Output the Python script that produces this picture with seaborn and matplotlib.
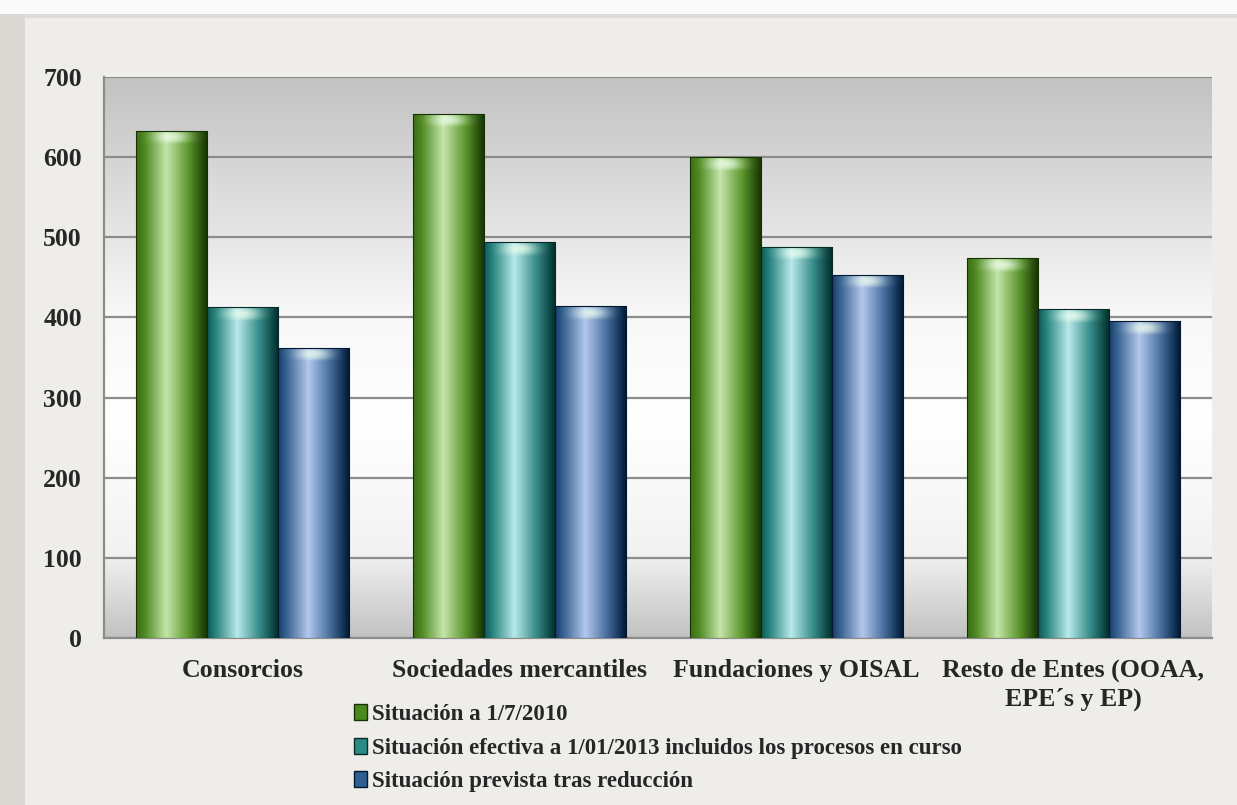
import numpy as np
import pandas as pd
import matplotlib
matplotlib.use("Agg")
import matplotlib.pyplot as plt
import seaborn as sns
from matplotlib.colors import LinearSegmentedColormap
from matplotlib.patches import Patch, Rectangle

categories = ["Consorcios", "Sociedades mercantiles", "Fundaciones y OISAL",
              "Resto de Entes (OOAA,\nEPE´s y EP)"]
series = ["Situación a 1/7/2010",
          "Situación efectiva a 1/01/2013 incluidos los procesos en curso",
          "Situación prevista tras reducción"]
s2010 = [633, 654, 600, 474]
s2013 = [413, 494, 488, 410]
prevista = [362, 414, 453, 395]
yticks = [0, 100, 200, 300, 400, 500, 600, 700]

base_colors = ["#4a8a1c", "#2a8a86", "#2e5f92"]
profiles = [
    ["#3b6e14", "#4f8a22", "#c5e6aa", "#5f9a30", "#254b0a", "#163205"],
    ["#0e5a55", "#2a8580", "#b8eaea", "#3a8f8c", "#0a4542", "#052a28"],
    ["#163e6a", "#3a6594", "#b4c8ec", "#4a70a0", "#0d2c50", "#03172e"],
]
stops = [0.0, 0.12, 0.42, 0.72, 0.93, 1.0]

df = pd.DataFrame({
    "cat": np.repeat(categories, 3),
    "serie": series * 4,
    "val": [v for trio in zip(s2010, s2013, prevista) for v in trio],
})

sns.set_style("white")
plt.rcParams["font.family"] = ["Liberation Serif", "DejaVu Serif"]
plt.rcParams["font.weight"] = "bold"

fig = plt.figure(figsize=(12.37, 8.05), dpi=100)
fig.patch.set_facecolor("#efede9")
# paper edges
fig.add_artist(Rectangle((0, 0), 25/1237, 1 - 14/805, transform=fig.transFigure,
                         facecolor="#dcd9d4", edgecolor="none", zorder=-5))
fig.add_artist(Rectangle((0, 1 - 14/805), 1, 14/805, transform=fig.transFigure,
                         facecolor="#fafafa", edgecolor="none", zorder=-5))
fig.add_artist(Rectangle((25/1237, 1 - 18/805), 1, 4/805, transform=fig.transFigure,
                         facecolor="#dddbd7", edgecolor="none", zorder=-4))

ax = fig.add_axes([104/1237, 1 - 638/805, (1212 - 104)/1237, (638 - 77)/805])

sns.barplot(data=df, x="cat", y="val", hue="serie", hue_order=series,
            palette=base_colors, width=0.77, dodge=True, ax=ax,
            edgecolor="none", linewidth=0, legend=False, zorder=3)

ax.set_ylim(0, 700)
ax.set_xlim(-0.5, 3.5)

# background gradient of plot area
g = np.array([0.0, 0.42, 0.62, 0.85, 1.0])
vals = np.array([0.76, 0.97, 1.0, 0.95, 0.76])
yy = np.linspace(0, 1, 300)
col = np.interp(yy, g, vals)
bg = np.repeat(col[:, None], 2, axis=1)
ax.imshow(np.dstack([bg, bg, bg]), extent=(-0.5, 3.5, 0, 700), aspect="auto",
          zorder=0, interpolation="bilinear")

# bar gradients
bars = [p for p in ax.patches if isinstance(p, Rectangle)]
for i, p in enumerate(bars):
    si = i // 4
    x0, w, h = p.get_x(), p.get_width(), p.get_height()
    cmap = LinearSegmentedColormap.from_list("c", list(zip(stops, profiles[si])))
    nx = 120
    ny = int(h)
    xs = np.linspace(0, 1, nx)
    row = cmap(xs)[:, :3]
    img = np.repeat(row[None, :, :], ny, axis=0).copy()
    band = 18
    for r in range(min(band, ny)):
        glow = np.exp(-((xs - 0.5) / 0.22) ** 2) * 0.75 * np.sin(np.pi * (r + 1) / band)
        img[r] = img[r] * (1 - glow[:, None]) + glow[:, None] * np.array([0.93, 1.0, 0.93])
    p.set_facecolor("none")
    im = ax.imshow(img, extent=(x0, x0 + w, 0, h), aspect="auto", zorder=3,
                   interpolation="bilinear")
    im.set_clip_path(p)
    ax.add_patch(Rectangle((x0, 0), w, h, facecolor="none",
                           edgecolor=profiles[si][-1], linewidth=0.8, zorder=4))

ax.set_xlim(-0.5, 3.5)
ax.set_ylim(0, 700)

ax.set_yticks(yticks)
ax.set_yticklabels([str(v) for v in yticks])
ax.grid(axis="y", color="#8c8c8c", linewidth=1.6, zorder=1)
ax.set_axisbelow(True)
ax.set_xticks(range(4))
ax.set_xticklabels(categories, linespacing=1.32)
ax.set_xticks([-0.5, 0.5, 1.5, 2.5, 3.5], minor=True)
ax.tick_params(axis="x", which="major", length=0, pad=15, labelsize=18.6)
ax.tick_params(axis="x", which="minor", length=7, color="#8c8c8c", width=1.2)
ax.tick_params(axis="y", length=8, color="#8c8c8c", width=1.2, pad=8, labelsize=18.5)
ax.set_xlabel("")
ax.set_ylabel("")
for s in ["top", "right"]:
    ax.spines[s].set_visible(False)
for s in ["left", "bottom"]:
    ax.spines[s].set_color("#8c8c8c")
    ax.spines[s].set_linewidth(1.6)

handles = [Patch(facecolor=base_colors[i], edgecolor=profiles[i][-1]) for i in range(3)]
fig.legend(handles, series, loc="upper left", bbox_to_anchor=(354/1237, 1 - 704/805),
           frameon=False, fontsize=16.5, handlelength=0.55, handleheight=0.7,
           handletextpad=0.25, labelspacing=0.55, borderaxespad=0, borderpad=0)

fig.savefig("out.png", dpi=100, facecolor=fig.get_facecolor())
